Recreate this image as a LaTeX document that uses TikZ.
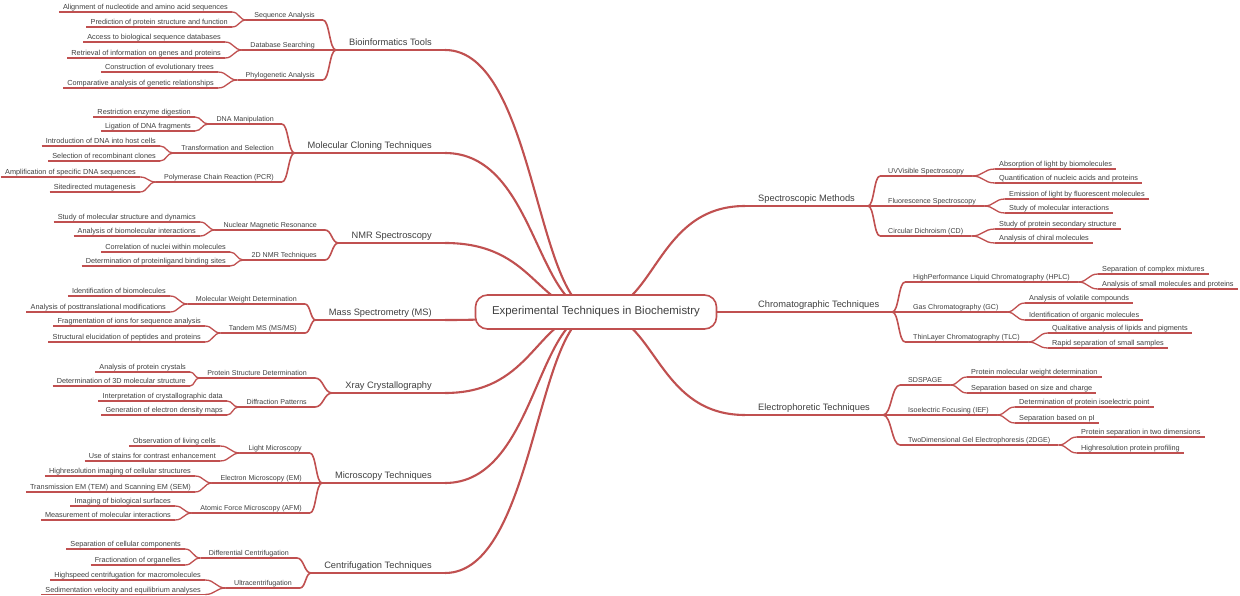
\documentclass[tikz,border=0pt]{standalone}
\usepackage{fontspec}
\setmainfont{Liberation Sans}
\usetikzlibrary{calc,backgrounds}
\definecolor{bough}{RGB}{192,80,80}
\definecolor{ink}{RGB}{64,64,64}
\begin{document}
\begin{tikzpicture}[x=1pt,y=-1pt,
  sbend/.style={to path={let \p1=(\tikztostart),\p2=(\tikztotarget),\n1={\x1+#1*(\x2-\x1)} in .. controls (\n1,\y1) and (\n1,\y2) .. (\tikztotarget)}},
  sbend/.default=0.5,
  trunk/.style={draw=bough,line width=2.1pt},
  limb/.style={draw=bough,line width=1.6pt},
  twig/.style={draw=bough,line width=1.3pt},
  lside/.style={anchor=south east},
  rside/.style={anchor=south west},
  rootbox/.style={draw=bough,line width=1.6pt,fill=white,rounded corners=12pt,minimum width=241pt,minimum height=34pt,font=\fontsize{11.4}{13}\selectfont,text=ink},
  topic/.style={font=\fontsize{9.3}{11}\selectfont,text=ink,inner xsep=13pt,inner ysep=4.5pt,text depth=0pt,
    append after command={(\tikzlastnode.south west) edge[trunk] (\tikzlastnode.south east)}},
  subtopic/.style={font=\fontsize{7.1}{8}\selectfont,text=ink,inner xsep=8pt,inner ysep=2.5pt,text depth=0pt,
    append after command={(\tikzlastnode.south west) edge[limb] (\tikzlastnode.south east)}},
  leaf/.style={font=\fontsize{7.3}{8}\selectfont,text=ink,inner xsep=4pt,inner ysep=2pt,text depth=0pt,
    append after command={(\tikzlastnode.south west) edge[twig] (\tikzlastnode.south east)}}]
\useasboundingbox (0,0) rectangle (1240,596);
\node[rootbox] (exp) at (596,312) {Experimental Techniques in Biochemistry};

\node[topic,lside] (bio) at (445,50) {Bioinformatics Tools};
\node[subtopic,lside] (bio1) at (323,20) {Sequence Analysis};
\node[subtopic,lside] (bio2) at (323,50) {Database Searching};
\node[subtopic,lside] (bio3) at (323,80) {Phylogenetic Analysis};
\node[leaf,lside] (bio1a) at (232,12) {Alignment of nucleotide and amino acid sequences};
\node[leaf,lside] (bio1b) at (232,27) {Prediction of protein structure and function};
\node[leaf,lside] (bio2a) at (225,42) {Access to biological sequence databases};
\node[leaf,lside] (bio2b) at (225,58) {Retrieval of information on genes and proteins};
\node[leaf,lside] (bio3a) at (218,72) {Construction of evolutionary trees};
\node[leaf,lside] (bio3b) at (218,88) {Comparative analysis of genetic relationships};

\node[topic,lside] (clon) at (445,153) {Molecular Cloning Techniques};
\node[subtopic,lside] (clon1) at (282,124) {DNA Manipulation};
\node[subtopic,lside] (clon2) at (282,153) {Transformation and Selection};
\node[subtopic,lside] (clon3) at (282,182) {Polymerase Chain Reaction (PCR)};
\node[leaf,lside] (clon1a) at (195,117) {Restriction enzyme digestion};
\node[leaf,lside] (clon1b) at (195,131) {Ligation of DNA fragments};
\node[leaf,lside] (clon2a) at (160,146) {Introduction of DNA into host cells};
\node[leaf,lside] (clon2b) at (160,161) {Selection of recombinant clones};
\node[leaf,lside] (clon3a) at (140,177) {Amplification of specific DNA sequences};
\node[leaf,lside] (clon3b) at (140,192) {Sitedirected mutagenesis};

\node[topic,lside] (nmr) at (445,243) {NMR Spectroscopy};
\node[subtopic,lside] (nmr1) at (325,230) {Nuclear Magnetic Resonance};
\node[subtopic,lside] (nmr2) at (325,260) {2D NMR Techniques};
\node[leaf,lside] (nmr1a) at (200,222) {Study of molecular structure and dynamics};
\node[leaf,lside] (nmr1b) at (200,236) {Analysis of biomolecular interactions};
\node[leaf,lside] (nmr2a) at (230,252) {Correlation of nuclei within molecules};
\node[leaf,lside] (nmr2b) at (230,266) {Determination of proteinligand binding sites};

\node[topic,lside] (ms) at (445,320) {Mass Spectrometry (MS)};
\node[subtopic,lside] (ms1) at (305,304) {Molecular Weight Determination};
\node[subtopic,lside] (ms2) at (305,333) {Tandem MS (MS/MS)};
\node[leaf,lside] (ms1a) at (170,296) {Identification of biomolecules};
\node[leaf,lside] (ms1b) at (170,312) {Analysis of posttranslational modifications};
\node[leaf,lside] (ms2a) at (205,326) {Fragmentation of ions for sequence analysis};
\node[leaf,lside] (ms2b) at (205,342) {Structural elucidation of peptides and proteins};

\node[topic,lside] (xray) at (445,393) {Xray Crystallography};
\node[subtopic,lside] (xray1) at (315,378) {Protein Structure Determination};
\node[subtopic,lside] (xray2) at (315,407) {Diffraction Patterns};
\node[leaf,lside] (xray1a) at (190,372) {Analysis of protein crystals};
\node[leaf,lside] (xray1b) at (190,386) {Determination of 3D molecular structure};
\node[leaf,lside] (xray2a) at (227,401) {Interpretation of crystallographic data};
\node[leaf,lside] (xray2b) at (227,415) {Generation of electron density maps};

\node[topic,lside] (micro) at (445,483) {Microscopy Techniques};
\node[subtopic,lside] (micro1) at (310,453) {Light Microscopy};
\node[subtopic,lside] (micro2) at (310,483) {Electron Microscopy (EM)};
\node[subtopic,lside] (micro3) at (310,513) {Atomic Force Microscopy (AFM)};
\node[leaf,lside] (micro1a) at (220,446) {Observation of living cells};
\node[leaf,lside] (micro1b) at (220,461) {Use of stains for contrast enhancement};
\node[leaf,lside] (micro2a) at (195,476) {Highresolution imaging of cellular structures};
\node[leaf,lside] (micro2b) at (195,492) {Transmission EM (TEM) and Scanning EM (SEM)};
\node[leaf,lside] (micro3a) at (175,506) {Imaging of biological surfaces};
\node[leaf,lside] (micro3b) at (175,520) {Measurement of molecular interactions};

\node[topic,lside] (cent) at (445,573) {Centrifugation Techniques};
\node[subtopic,lside] (cent1) at (297,558) {Differential Centrifugation};
\node[subtopic,lside] (cent2) at (300,588) {Ultracentrifugation};
\node[leaf,lside] (cent1a) at (185,549) {Separation of cellular components};
\node[leaf,lside] (cent1b) at (185,565) {Fractionation of organelles};
\node[leaf,lside] (cent2a) at (205,580) {Highspeed centrifugation for macromolecules};
\node[leaf,lside] (cent2b) at (205,594.5) {Sedimentation velocity and equilibrium analyses};

\node[topic,rside] (spec) at (745,206) {Spectroscopic Methods};
\node[subtopic,rside] (spec1) at (880,176) {UVVisible Spectroscopy};
\node[subtopic,rside] (spec2) at (880,206) {Fluorescence Spectroscopy};
\node[subtopic,rside] (spec3) at (880,236) {Circular Dichroism (CD)};
\node[leaf,rside] (spec1a) at (995,169) {Absorption of light by biomolecules};
\node[leaf,rside] (spec1b) at (995,183) {Quantification of nucleic acids and proteins};
\node[leaf,rside] (spec2a) at (1005,199) {Emission of light by fluorescent molecules};
\node[leaf,rside] (spec2b) at (1005,213) {Study of molecular interactions};
\node[leaf,rside] (spec3a) at (995,229) {Study of protein secondary structure};
\node[leaf,rside] (spec3b) at (995,243) {Analysis of chiral molecules};

\node[topic,rside] (chrom) at (745,312) {Chromatographic Techniques};
\node[subtopic,rside] (chrom1) at (905,282) {HighPerformance Liquid Chromatography (HPLC)};
\node[subtopic,rside] (chrom2) at (905,312) {Gas Chromatography (GC)};
\node[subtopic,rside] (chrom3) at (905,342) {ThinLayer Chromatography (TLC)};
\node[leaf,rside] (chrom1a) at (1098,274) {Separation of complex mixtures};
\node[leaf,rside] (chrom1b) at (1098,289) {Analysis of small molecules and proteins};
\node[leaf,rside] (chrom2a) at (1025,303) {Analysis of volatile compounds};
\node[leaf,rside] (chrom2b) at (1025,320) {Identification of organic molecules};
\node[leaf,rside] (chrom3a) at (1048,333) {Qualitative analysis of lipids and pigments};
\node[leaf,rside] (chrom3b) at (1048,348) {Rapid separation of small samples};

\node[topic,rside] (elec) at (745,415) {Electrophoretic Techniques};
\node[subtopic,rside] (elec1) at (900,385) {SDSPAGE};
\node[subtopic,rside] (elec2) at (900,415) {Isoelectric Focusing (IEF)};
\node[subtopic,rside] (elec3) at (900,445) {TwoDimensional Gel Electrophoresis (2DGE)};
\node[leaf,rside] (elec1a) at (967,377) {Protein molecular weight determination};
\node[leaf,rside] (elec1b) at (967,393) {Separation based on size and charge};
\node[leaf,rside] (elec2a) at (1015,407) {Determination of protein isoelectric point};
\node[leaf,rside] (elec2b) at (1015,423) {Separation based on pI};
\node[leaf,rside] (elec3a) at (1077,437) {Protein separation in two dimensions};
\node[leaf,rside] (elec3b) at (1077,453) {Highresolution protein profiling};

\begin{pgfonlayer}{background}
\fill[white] (0,0) rectangle (1240,596);
\foreach \br in {bio,clon,nmr,ms,xray,micro,cent}
  \draw[trunk] (exp.center) to[sbend=0.4] (\br.south east);
\foreach \br in {spec,chrom,elec}
  \draw[trunk] (exp.center) to[sbend=0.4] (\br.south west);
\end{pgfonlayer}

\foreach \kid/\mom in {bio1/bio,bio2/bio,bio3/bio,clon1/clon,clon2/clon,clon3/clon,nmr1/nmr,nmr2/nmr,ms1/ms,ms2/ms,xray1/xray,xray2/xray,micro1/micro,micro2/micro,micro3/micro,cent1/cent,cent2/cent}
  \draw[limb] (\kid.south east) to[sbend] (\mom.south west);
\foreach \kid in {bio1,bio2,bio3,clon1,clon2,clon3,nmr1,nmr2,ms1,ms2,xray1,xray2,micro1,micro2,micro3,cent1,cent2}
  \foreach \tip in {a,b}
    \draw[twig] (\kid\tip.south east) to[sbend] (\kid.south west);

\foreach \mom/\kid in {spec/spec1,spec/spec2,spec/spec3,chrom/chrom1,chrom/chrom2,chrom/chrom3,elec/elec1,elec/elec2,elec/elec3}
  \draw[limb] (\mom.south east) to[sbend] (\kid.south west);
\foreach \kid in {spec1,spec2,spec3,chrom1,chrom2,chrom3,elec1,elec2,elec3}
  \foreach \tip in {a,b}
    \draw[twig] (\kid.south east) to[sbend] (\kid\tip.south west);
\end{tikzpicture}
\end{document}
